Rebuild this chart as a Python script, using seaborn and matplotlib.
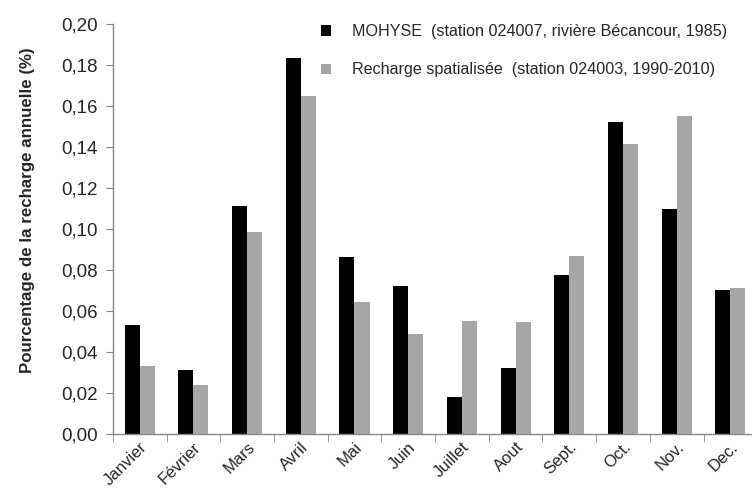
import numpy as np
import pandas as pd
import matplotlib
matplotlib.use("Agg")
import matplotlib.pyplot as plt
from matplotlib.ticker import FuncFormatter, FixedLocator
import seaborn as sns

months = ["Janvier", "Février", "Mars", "Avril", "Mai", "Juin", "Juillet",
          "Aout", "Sept.", "Oct.", "Nov.", "Dec."]
mohyse = [0.053, 0.031, 0.111, 0.1835, 0.0863, 0.0722, 0.018, 0.032,
          0.0776, 0.152, 0.1098, 0.0702]
recharge = [0.033, 0.024, 0.0985, 0.165, 0.0644, 0.0488, 0.0551, 0.0546,
            0.0868, 0.1415, 0.155, 0.0712]
series_names = ["MOHYSE  (station 024007, rivière Bécancour, 1985)",
                "Recharge spatialisée  (station 024003, 1990-2010)"]
yticks = [0.00, 0.02, 0.04, 0.06, 0.08, 0.10, 0.12, 0.14, 0.16, 0.18, 0.20]

df = pd.DataFrame({
    "mois": months * 2,
    "valeur": mohyse + recharge,
    "serie": [series_names[0]] * len(months) + [series_names[1]] * len(months),
})

sns.set_style("white")
plt.rcParams["font.family"] = ["Liberation Sans", "DejaVu Sans"]

fig = plt.figure(figsize=(7.52, 4.88), dpi=100)
ax = fig.add_axes([0.150, 0.111, 0.857, 0.840])

sns.barplot(data=df, x="mois", y="valeur", hue="serie", order=months,
            hue_order=series_names, palette=["#000000", "#a6a6a6"],
            width=0.56, ax=ax, saturation=1, legend=True, linewidth=0)

ax.set_ylim(0, 0.20)
ax.set_xlim(-0.5, len(months) - 0.5)
ax.yaxis.set_major_locator(FixedLocator(yticks))
ax.yaxis.set_major_formatter(FuncFormatter(lambda v, p: f"{v:.2f}".replace(".", ",")))
ax.tick_params(axis="y", labelsize=13.5, length=5, color="#888888", direction="out", left=True, pad=6)
ax.tick_params(axis="x", which="major", length=0, labelsize=12, pad=4)
ax.set_xticks(np.arange(len(months) + 1) - 0.5, minor=True)
ax.tick_params(axis="x", which="minor", length=6, color="#888888", direction="out", bottom=True)
plt.setp(ax.get_xticklabels(), rotation=45, ha="right", rotation_mode="anchor")

for side in ["top", "right"]:
    ax.spines[side].set_visible(False)
for side in ["left", "bottom"]:
    ax.spines[side].set_color("#888888")
    ax.spines[side].set_linewidth(1.0)

ax.set_xlabel("")
ax.set_ylabel("Pourcentage de la recharge annuelle (%)", fontsize=12.2, fontweight="bold")
ax.yaxis.set_label_coords(-0.121, 0.546)

leg = ax.legend(loc="upper right", bbox_to_anchor=(0.975, 1.035), frameon=False,
                fontsize=11.6, handlelength=0.6, handleheight=0.6, labelspacing=1.45,
                handletextpad=1.3)

fig.savefig("out.png", dpi=100)
